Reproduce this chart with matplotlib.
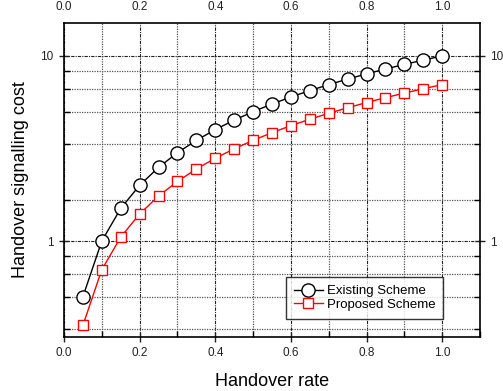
import matplotlib
matplotlib.use("Agg")
import matplotlib.pyplot as plt
from matplotlib.ticker import FixedLocator, NullFormatter, FixedFormatter

plt.rcParams['font.family'] = ['Liberation Sans', 'DejaVu Sans']

handover_rate = [0.05, 0.10, 0.15, 0.20, 0.25, 0.30, 0.35, 0.40, 0.45, 0.50,
                 0.55, 0.60, 0.65, 0.70, 0.75, 0.80, 0.85, 0.90, 0.95, 1.00]
existing = [0.5, 1.0, 1.5, 2.0, 2.5, 3.0, 3.5, 4.0, 4.5, 5.0,
            5.5, 6.0, 6.5, 7.0, 7.5, 8.0, 8.5, 9.0, 9.5, 10.0]
proposed = [0.35, 0.70, 1.05, 1.40, 1.75, 2.10, 2.45, 2.80, 3.15, 3.50,
            3.85, 4.20, 4.55, 4.90, 5.25, 5.60, 5.95, 6.30, 6.65, 7.00]
x_ticks = [0.0, 0.2, 0.4, 0.6, 0.8, 1.0]
x_minor = [0.1, 0.3, 0.5, 0.7, 0.9, 1.1]
y_ticks = [1, 10]
y_minor = [0.3333, 0.5, 0.6667, 0.8333, 1.6667, 3.3333, 5.0, 6.6667, 8.3333]

fig = plt.figure(figsize=(5.03, 3.91), dpi=100)
ax = fig.add_axes([0.1272, 0.1381, 0.8271, 0.8031])

ax.plot(handover_rate, existing, color='black', lw=1.0, marker='o', ms=9.5,
        mfc='white', mec='black', mew=1.0, label='Existing Scheme', zorder=3)
ax.plot(handover_rate, proposed, color='red', lw=1.0, marker='s', ms=7.5,
        mfc='white', mec='red', mew=1.0, label='Proposed Scheme', zorder=3)

ax.set_yscale('log')
ax.set_xlim(0, 1.1)
ax.set_ylim(0.303, 15.07)

ax.xaxis.set_major_locator(FixedLocator(x_ticks))
ax.xaxis.set_minor_locator(FixedLocator(x_minor))
ax.xaxis.set_major_formatter(FixedFormatter([f"{v:.1f}" for v in x_ticks]))
ax.yaxis.set_major_locator(FixedLocator(y_ticks))
ax.yaxis.set_major_formatter(FixedFormatter([str(v) for v in y_ticks]))
ax.yaxis.set_minor_locator(FixedLocator(y_minor))
ax.yaxis.set_minor_formatter(NullFormatter())

ax.grid(True, which='major', color='#222222', linestyle=(0, (3, 1, 1, 1)), lw=0.8)
ax.grid(True, which='minor', color='#555555', linestyle=(0, (1, 1)), lw=0.9)
ax.set_axisbelow(True)

ax.tick_params(which='major', direction='inout', length=7, width=1.0,
               labelsize=8.5, top=True, right=True, labeltop=True, labelright=True,
               colors='#222222', pad=4)
ax.tick_params(which='minor', direction='in', length=4, width=1.0,
               top=True, right=True)
ax.tick_params(axis='x', which='both', top=False)
for s in ax.spines.values():
    s.set_linewidth(1.2)

ax.set_xlabel('Handover rate', fontsize=13, labelpad=10)
ax.set_ylabel('Handover signalling cost', fontsize=13, labelpad=8)

leg = ax.legend(loc='lower right', bbox_to_anchor=(0.912, 0.058), fontsize=9.5,
                frameon=True, fancybox=False, edgecolor='black',
                handlelength=2.2, borderpad=0.6, labelspacing=0.1,
                handletextpad=0.3, borderaxespad=0)
leg.get_frame().set_linewidth(1.0)

fig.savefig('out.png', dpi=100)
